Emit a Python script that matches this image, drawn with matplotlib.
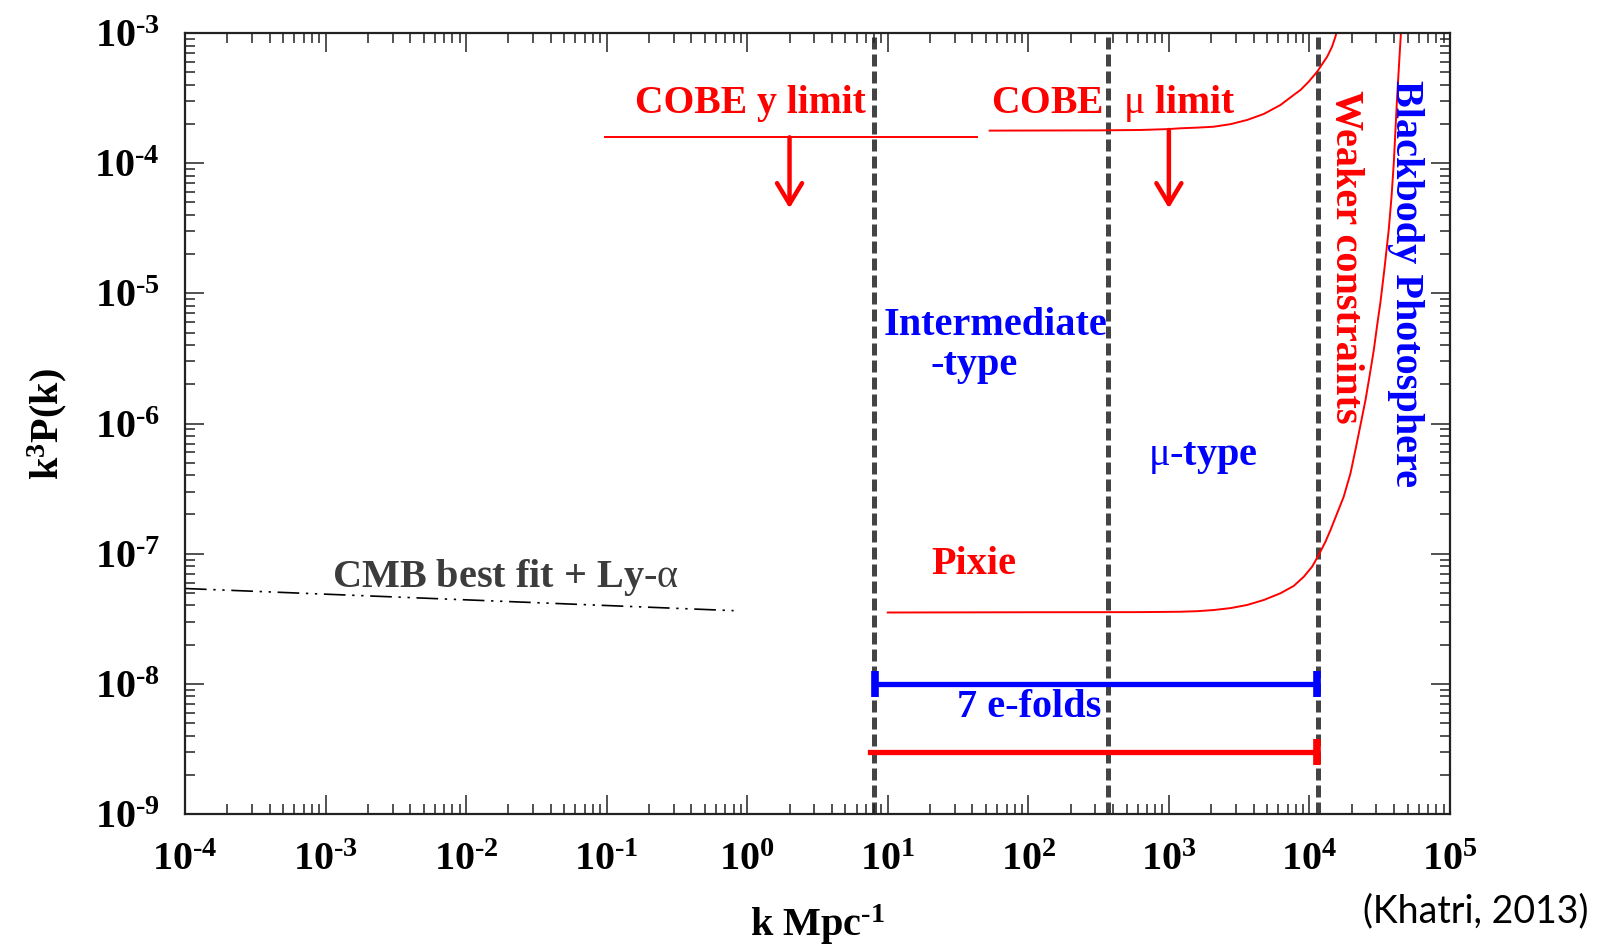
import numpy as np
import matplotlib
matplotlib.use('Agg')
import matplotlib.pyplot as plt
from matplotlib.ticker import LogLocator, FuncFormatter, NullFormatter

plt.rcParams['font.family'] = ['Liberation Serif', 'DejaVu Serif']
plt.rcParams['font.weight'] = 'bold'
plt.rcParams['mathtext.fontset'] = 'custom'
plt.rcParams['mathtext.rm'] = 'Liberation Serif:normal'
plt.rcParams['mathtext.bf'] = 'Liberation Serif:bold'
plt.rcParams['mathtext.it'] = 'Liberation Serif:italic:normal'

RED = '#ff0000'
BLUE = '#0000ff'
HYPH = '\u2010'

# CMB best fit + Ly-alpha primordial spectrum
cmb_k = [1e-4, 0.8]
cmb_p = [5.4e-8, 3.65e-8]

# COBE y-distortion limit
cobe_y_k = [0.097, 43]
cobe_y_p = [1.58e-4, 1.58e-4]

# COBE mu-distortion limit (log10 k, log10 k^3P)
cobe_mu_logk = [1.725, 2.5, 2.8, 3.0, 3.082, 3.2, 3.319, 3.44, 3.557, 3.675, 3.794, 3.888, 3.936,
                3.995, 4.055, 4.126, 4.161, 4.185, 4.197]
cobe_mu_logp = [-3.750, -3.748, -3.745, -3.738, -3.732, -3.727, -3.720, -3.700, -3.668, -3.622,
                -3.553, -3.476, -3.438, -3.374, -3.297, -3.182, -3.105, -3.028, -2.977]

# Pixie sensitivity (log10 k, log10 k^3P)
pixie_logk = [1.0, 2.0, 2.8, 3.0, 3.082, 3.2, 3.319, 3.44, 3.557, 3.675, 3.794, 3.888, 3.960, 4.019,
              4.066, 4.114, 4.150, 4.197, 4.244, 4.292, 4.327, 4.363, 4.399, 4.429,
              4.458, 4.482, 4.505, 4.534, 4.564, 4.584, 4.600, 4.612, 4.624, 4.638, 4.652]
pixie_logp = [-7.452, -7.450, -7.449, -7.447, -7.446, -7.442, -7.433, -7.418, -7.394, -7.356,
              -7.304, -7.248, -7.177, -7.100, -7.010, -6.908, -6.818, -6.690, -6.562, -6.383,
              -6.204, -6.012, -5.819, -5.627, -5.435, -5.243, -5.070, -4.808, -4.513, -4.258,
              -4.001, -3.745, -3.489, -3.233, -2.977]

# boundaries: y-type / intermediate / mu-type / weaker constraints
era_k = [8.0, 370, 11500]

# 7 e-folds span and the Pixie range bar
efold_k = [8.15, 11400]
efold_p = 1e-8
pixie_bar_k = [7.5, 11400]
pixie_bar_p = 3e-9

# downward arrows below the COBE limits
arrow_k = [2, 1000]
arrow_from = [1.58e-4, 1.80e-4]
arrow_to = 4.5e-5

fig = plt.figure(figsize=(16.06, 9.44), dpi=100)
ax = fig.add_axes([0.11519, 0.13771, 0.78767, 0.82733])
ax.set_xscale('log')
ax.set_yscale('log')
ax.set_xlim(1e-4, 1e5)
ax.set_ylim(1e-9, 1e-3)

for k in era_k:
    ax.axvline(k, color='#444444', lw=3.6, ls=(0, (2.4, 1.0)), zorder=1.5)

ax.plot(cmb_k, cmb_p, color='black', lw=1.2, dashes=(13, 4, 1.4, 4, 1.4, 4))
ax.plot(cobe_y_k, cobe_y_p, color=RED, lw=1.4)
ax.plot(10 ** np.array(cobe_mu_logk), 10 ** np.array(cobe_mu_logp), color=RED, lw=1.4)
ax.plot(10 ** np.array(pixie_logk), 10 ** np.array(pixie_logp), color=RED, lw=1.4)

for k, p0 in zip(arrow_k, arrow_from):
    ax.annotate('', xy=(k, arrow_to), xytext=(k, p0),
                arrowprops=dict(arrowstyle='->,head_length=0.75,head_width=0.45',
                                mutation_scale=20, color=RED, lw=3.2,
                                shrinkA=0, shrinkB=0))

ax.plot(efold_k, [efold_p, efold_p], color=BLUE, lw=3.8, zorder=3)
ax.plot(efold_k, [efold_p, efold_p], ls='none', marker='|', ms=19, mew=5.5, color=BLUE, zorder=3)
ax.plot(pixie_bar_k, [pixie_bar_p, pixie_bar_p], color=RED, lw=3.8, zorder=3)
ax.plot(pixie_bar_k[1:], [pixie_bar_p], ls='none', marker='|', ms=19, mew=5.5, color=RED, zorder=3)

fs = 29
ax.text(1.06, 10**-3.617, 'COBE y limit', color=RED, fontsize=28.5, ha='center', va='baseline')
ax.text(399, 10**-3.617, r'COBE  $\mathrm{\mu}$ limit', color=RED, fontsize=28.5, ha='center', va='baseline')
ax.text(18030, 1.91e-5, 'Weaker constraints', color=RED, fontsize=fs, rotation=-90,
        ha='center', va='center')
ax.text(48200, 1.19e-5, 'Blackbody Photosphere', color=BLUE, fontsize=fs, rotation=-90,
        ha='center', va='center')
ax.text(58.2, 10**-5.320, 'Intermediate', color=BLUE, fontsize=fs, ha='center', va='baseline')
ax.text(41.3, 10**-5.627, '-type', color=BLUE, fontsize=fs, ha='center', va='baseline')
ax.text(1746, 10**-6.319, r'$\mathrm{\mu}$-type', color=BLUE, fontsize=fs, ha='center', va='baseline')
ax.text(40.9, 10**-7.153, 'Pixie', color=RED, fontsize=fs, ha='center', va='baseline')
ax.text(0.0192, 10**-7.254, r'CMB best fit + Ly-$\mathrm{\alpha}$', color='#3c3c3c', fontsize=fs,
        ha='center', va='baseline')
ax.text(101.6, 10**-8.257, '7 e-folds', color=BLUE, fontsize=fs, ha='center', va='baseline')


def pow_label(v, pos):
    e = int(round(np.log10(v)))
    sign = HYPH if e < 0 else ''
    return r'$\mathbf{10^{%s%d}}$' % (sign, abs(e))


for axis in (ax.xaxis, ax.yaxis):
    axis.set_major_locator(LogLocator(base=10, numticks=20))
    axis.set_minor_locator(LogLocator(base=10, subs=np.arange(2, 10), numticks=20))
    axis.set_major_formatter(FuncFormatter(pow_label))
    axis.set_minor_formatter(NullFormatter())
ax.tick_params(which='both', direction='in', top=True, right=True, width=1.1, color='#222222')
ax.tick_params(which='major', length=14)
ax.tick_params(which='minor', length=7.5)
ax.tick_params(axis='y', which='major', labelsize=fs, pad=18)
ax.tick_params(axis='x', which='major', labelsize=fs, pad=20)
for s in ax.spines.values():
    s.set_linewidth(1.6)
    s.set_color('#222222')

fig.text(817 / 1606, 1 - 936 / 944, r'$\mathbf{k\ Mpc^{%s1}}$' % HYPH, fontsize=fs,
         ha='center', va='baseline')
fig.text(47 / 1606, 1 - 424 / 944, r'$\mathbf{k^3P(k)}$', fontsize=fs, rotation=90,
         ha='center', va='center')
fig.text(0.9888, 1 - 922 / 944, '(Khatri, 2013)', fontsize=27, fontweight='normal',
         family='Lato', ha='right', va='baseline')

fig.savefig('out.png', dpi=100)
